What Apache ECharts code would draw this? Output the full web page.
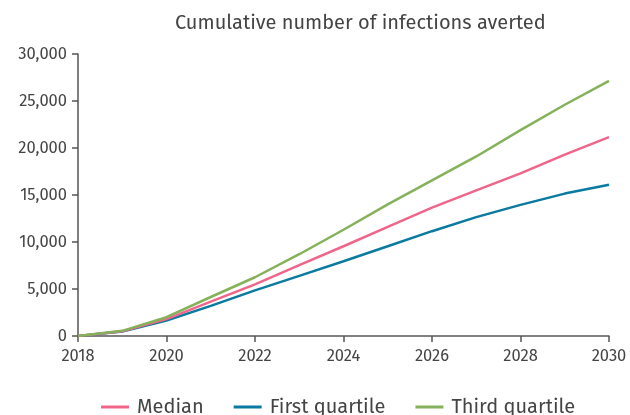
<!DOCTYPE html>
<html>
<head>
<meta charset="utf-8">
<script src="https://cdn.jsdelivr.net/npm/echarts@6/dist/echarts.min.js"></script>
<style>
  html, body { margin: 0; padding: 0; background: #fff; }
  #chart { width: 630px; height: 415px; }
</style>
</head>
<body>
<div id="chart"></div>
<script>
// chart data
const years = [2018, 2019, 2020, 2021, 2022, 2023, 2024, 2025, 2026, 2027, 2028, 2029, 2030]
const median = [0, 500, 1800, 3650, 5500, 7550, 9550, 11600, 13650, 15500, 17300, 19300, 21150]
const firstQuartile = [0, 480, 1650, 3200, 4850, 6400, 7950, 9550, 11150, 12650, 13950, 15150, 16100]
const thirdQuartile = [0, 550, 2000, 4150, 6250, 8700, 11300, 14000, 16550, 19100, 21900, 24600, 27150]
const seriesNames = ['Median', 'First quartile', 'Third quartile']
const colorArray = ['#f0668a', '#0a7aa0', '#84b159']

const font = "'Fira Sans', 'Noto Sans', sans-serif"
const chart = echarts.init(document.getElementById('chart'), null, { renderer: 'canvas' })

function pairs(vals) {
  return years.map((y, i) => [y, vals[i]])
}

const series = [median, firstQuartile, thirdQuartile].map((vals, index) => ({
  name: seriesNames[index],
  type: 'line',
  data: pairs(vals),
  showSymbol: false,
  symbol: 'none',
  smooth: false,
  animation: false,
  z: index === 1 ? 3 : (index === 0 ? 4 : 5),
  lineStyle: { color: colorArray[index], width: 2.5 },
  itemStyle: { color: colorArray[index] }
}))

chart.setOption({
  textStyle: { fontFamily: font },
  title: {
    text: 'Cumulative number of infections averted',
    left: 170,
    top: 8,
    textStyle: { fontFamily: font, fontSize: 20, fontWeight: 'normal', color: '#444' }
  },
  grid: { left: 78, right: 21, top: 54, bottom: 79, containLabel: false },
  legend: {
    data: seriesNames,
    top: 392,
    left: 96,
    icon: 'rect',
    itemWidth: 28,
    itemHeight: 3,
    itemGap: 30,
    textStyle: { fontFamily: font, fontSize: 20, color: '#444', padding: [0, 0, 0, 3] }
  },
  xAxis: {
    type: 'value',
    min: 2018,
    max: 2030,
    interval: 2,
    axisLine: { show: true, lineStyle: { color: '#555', width: 1.5 } },
    axisTick: { show: true, length: 6, lineStyle: { color: '#555', width: 1.5 } },
    splitLine: { show: false },
    axisLabel: {
      color: '#444',
      fontSize: 16.5,
      fontFamily: font,
      margin: 12,
      formatter: function(v) { return String(v) }
    }
  },
  yAxis: {
    type: 'value',
    min: 0,
    max: 30000,
    interval: 5000,
    axisLine: { show: true, lineStyle: { color: '#555', width: 1.5 } },
    axisTick: { show: true, length: 6, lineStyle: { color: '#555', width: 1.5 } },
    splitLine: { show: false },
    axisLabel: {
      color: '#444',
      fontSize: 16.5,
      fontFamily: font,
      margin: 11,
      formatter: function(v) { return v.toLocaleString('en-US') }
    }
  },
  series: series
})
</script>
</body>
</html>
